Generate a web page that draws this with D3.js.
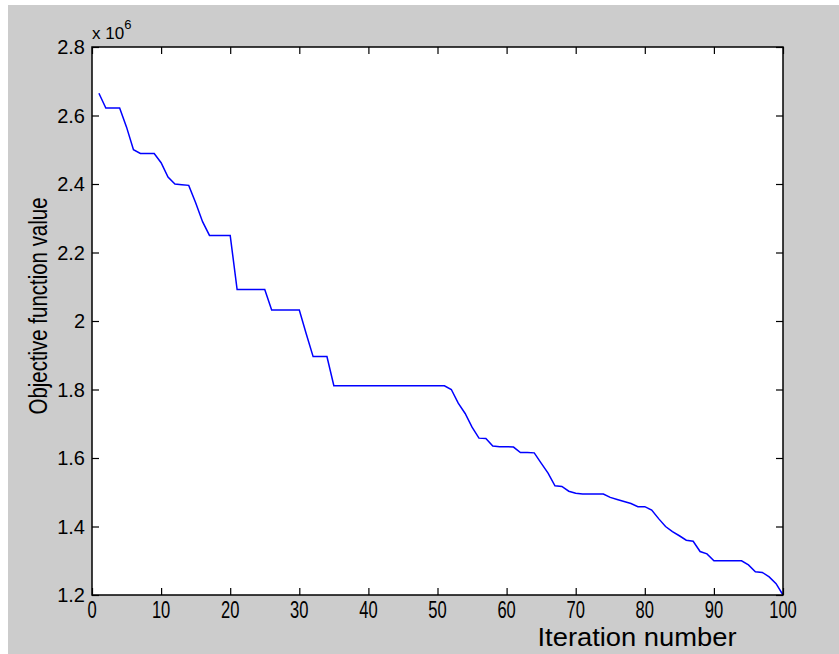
<!DOCTYPE html>
<html>
<head>
<meta charset="utf-8">
<script src="https://cdn.jsdelivr.net/npm/d3@7"></script>
<style>
  html, body { margin: 0; padding: 0; background: #ffffff; }
  svg { display: block; }
</style>
</head>
<body>
<div id="space"></div>
<script>
// Declare constants
const FIG_COLOR = "#cccccc";
const LINE_COLOR = "#0000ff";
const FONT = "'Liberation Sans', Arial, sans-serif";

// Iteration numbers (x) and objective values in units of 1e6 (y)
const ITERATIONS = d3.range(1, 101);
const OBJECTIVE = [
  2.665, 2.622, 2.622, 2.622, 2.566, 2.500, 2.489, 2.489, 2.489, 2.462,
  2.420, 2.400, 2.398, 2.396, 2.345, 2.290, 2.250, 2.250, 2.250, 2.250,
  2.092, 2.092, 2.092, 2.092, 2.092, 2.032, 2.032, 2.032, 2.032, 2.032,
  1.963, 1.896, 1.896, 1.896, 1.811, 1.811, 1.811, 1.811, 1.811, 1.811,
  1.811, 1.811, 1.811, 1.811, 1.811, 1.811, 1.811, 1.811, 1.811, 1.811,
  1.811, 1.800, 1.760, 1.730, 1.690, 1.658, 1.657, 1.635, 1.633, 1.633,
  1.632, 1.616, 1.616, 1.615, 1.585, 1.556, 1.519, 1.517, 1.503, 1.497,
  1.495, 1.495, 1.495, 1.495, 1.485, 1.479, 1.473, 1.467, 1.458, 1.458,
  1.448, 1.423, 1.400, 1.385, 1.373, 1.360, 1.357, 1.327, 1.320, 1.300,
  1.300, 1.300, 1.300, 1.300, 1.288, 1.268, 1.266, 1.253, 1.233, 1.200
];

// Tick values
const X_TICKS = [0, 10, 20, 30, 40, 50, 60, 70, 80, 90, 100];
const Y_TICKS = [1.2, 1.4, 1.6, 1.8, 2, 2.2, 2.4, 2.6, 2.8];

// Size of the picture and the axes box
var width = 839;
var height = 654;
var box = { left: 92, right: 783, top: 47, bottom: 595 };
var tickLen = 7;

var svg = d3
  .select("#space")
  .append("svg")
  .attr("width", width)
  .attr("height", height);

// Figure background (thin white strip left and top, as in the screenshot)
svg
  .append("rect")
  .attr("x", 8)
  .attr("y", 5)
  .attr("width", width - 8)
  .attr("height", height - 5)
  .attr("fill", FIG_COLOR);

// Scales
var x = d3.scaleLinear().domain([0, 100]).range([box.left, box.right]);
var y = d3.scaleLinear().domain([1.2, 2.8]).range([box.bottom, box.top]);

// White axes area
svg
  .append("rect")
  .attr("x", box.left)
  .attr("y", box.top)
  .attr("width", box.right - box.left)
  .attr("height", box.bottom - box.top)
  .attr("fill", "#ffffff");

// The line
var line = d3
  .line()
  .x((d, i) => x(ITERATIONS[i]))
  .y((d) => y(d));

svg
  .append("path")
  .datum(OBJECTIVE)
  .attr("fill", "none")
  .attr("stroke", LINE_COLOR)
  .attr("stroke-width", 1.5)
  .attr("d", line);

// Axes: ticks pointing inward on all four sides (MATLAB box on)
function styleAxis(g) {
  g.select(".domain").remove();
  g.selectAll(".tick line").attr("stroke", "#000").attr("stroke-width", 1.2);
  g.selectAll("text").remove();
}

svg
  .append("g")
  .attr("transform", `translate(0,${box.bottom})`)
  .call(d3.axisTop(x).tickValues(X_TICKS).tickSize(tickLen))
  .call(styleAxis);
svg
  .append("g")
  .attr("transform", `translate(0,${box.top})`)
  .call(d3.axisBottom(x).tickValues(X_TICKS).tickSize(tickLen))
  .call(styleAxis);
svg
  .append("g")
  .attr("transform", `translate(${box.left},0)`)
  .call(d3.axisRight(y).tickValues(Y_TICKS).tickSize(tickLen))
  .call(styleAxis);
svg
  .append("g")
  .attr("transform", `translate(${box.right},0)`)
  .call(d3.axisLeft(y).tickValues(Y_TICKS).tickSize(tickLen))
  .call(styleAxis);

// Box outline
svg
  .append("rect")
  .attr("x", box.left)
  .attr("y", box.top)
  .attr("width", box.right - box.left)
  .attr("height", box.bottom - box.top)
  .attr("fill", "none")
  .attr("stroke", "#000")
  .attr("stroke-width", 1.5);

// X tick labels (narrow, tall digits)
svg
  .selectAll("text.xtick")
  .data(X_TICKS)
  .enter()
  .append("text")
  .attr("class", "xtick")
  .attr("transform", (d) => `translate(${x(d)},618) scale(0.72,1)`)
  .attr("text-anchor", "middle")
  .style("font-family", FONT)
  .style("font-size", "23px")
  .text((d) => d);

// Y tick labels
svg
  .selectAll("text.ytick")
  .data(Y_TICKS)
  .enter()
  .append("text")
  .attr("class", "ytick")
  .attr("x", box.left - 7)
  .attr("y", (d) => y(d) + 7)
  .attr("text-anchor", "end")
  .style("font-family", FONT)
  .style("font-size", "20px")
  .text((d) => d);

// Exponent label
var expo = svg
  .append("text")
  .attr("x", box.left)
  .attr("y", 39)
  .style("font-family", FONT)
  .style("font-size", "17px");
expo.append("tspan").text("x 10");
expo
  .append("tspan")
  .attr("dy", -10)
  .style("font-size", "13px")
  .text("6");

// Axis titles
svg
  .append("text")
  .attr("x", 637)
  .attr("y", 646)
  .attr("text-anchor", "middle")
  .attr("textLength", 199)
  .attr("lengthAdjust", "spacingAndGlyphs")
  .style("font-family", FONT)
  .style("font-size", "25px")
  .text("Iteration number");

svg
  .append("text")
  .attr("transform", "translate(47,306) rotate(-90)")
  .attr("text-anchor", "middle")
  .attr("textLength", 217)
  .attr("lengthAdjust", "spacingAndGlyphs")
  .style("font-family", FONT)
  .style("font-size", "25px")
  .text("Objective function value");
</script>
</body>
</html>
